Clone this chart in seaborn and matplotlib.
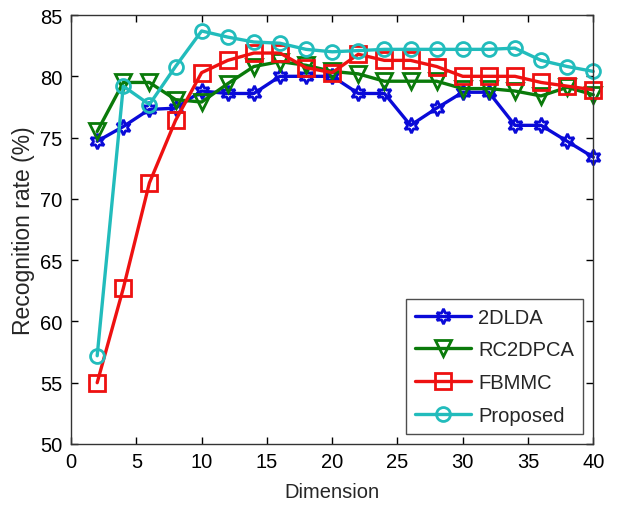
import matplotlib
matplotlib.use('Agg')
import matplotlib.pyplot as plt
import seaborn as sns
import numpy as np
import pandas as pd

dims = [2, 4, 6, 8, 10, 12, 14, 16, 18, 20, 22, 24, 26, 28, 30, 32, 34, 36, 38, 40]

lda2d = [74.7, 75.9, 77.3, 77.4, 78.8, 78.6, 78.6, 80.0, 80.0, 80.0,
         78.6, 78.6, 76.0, 77.4, 78.7, 78.7, 76.0, 76.0, 74.7, 73.4]
rc2dpca = [75.5, 79.5, 79.5, 78.1, 77.9, 79.4, 80.8, 81.2, 80.9, 80.4,
           80.2, 79.6, 79.6, 79.6, 79.0, 79.0, 78.8, 78.4, 79.1, 78.5]
fbmmc = [55.0, 62.7, 71.3, 76.4, 80.3, 81.3, 81.9, 81.9, 80.7, 80.3,
         81.8, 81.3, 81.3, 80.8, 80.0, 80.0, 80.0, 79.5, 79.2, 78.9]
proposed = [57.2, 79.2, 77.7, 80.8, 83.7, 83.2, 82.8, 82.7, 82.2, 82.0,
            82.1, 82.2, 82.2, 82.2, 82.2, 82.2, 82.3, 81.3, 80.8, 80.4]

names = ['2DLDA', 'RC2DPCA', 'FBMMC', 'Proposed']
colors = ['#0a0ad8', '#0a7a0a', '#ee1111', '#22bcbc']
markers = [(6, 1, 0), 'v', 's', 'o']
sizes = [11, 12, 11, 10]

sns.set_style('ticks')
plt.rcParams['font.family'] = ['Liberation Sans', 'DejaVu Sans']

fig = plt.figure(figsize=(6.18, 5.06), dpi=100)
ax = fig.add_axes([0.115, 0.1206, 0.845, 0.8477])

series = [lda2d, rc2dpca, fbmmc, proposed]
for name, vals, c, m, ms in zip(names, series, colors, markers, sizes):
    df = pd.DataFrame({'Dimension': dims, 'rate': vals})
    sns.lineplot(data=df, x='Dimension', y='rate', ax=ax, color=c, marker=m,
                 markersize=ms, markeredgecolor=c, markerfacecolor='none',
                 markeredgewidth=2, linewidth=2.4, label=name, clip_on=False)

ax.set_xlim(0, 40)
ax.set_ylim(50, 85)
ax.set_xticks(np.arange(0, 41, 5))
ax.set_yticks(np.arange(50, 86, 5))
ax.tick_params(direction='in', length=5, width=1, top=True, right=True,
               labelsize=14.5, colors='black', pad=6)
for s in ax.spines.values():
    s.set_visible(True)
    s.set_color('#333333')
    s.set_linewidth(1)

ax.set_xlabel('Dimension', fontsize=14.5, labelpad=8)
ax.set_ylabel('Recognition rate (%)', fontsize=16.5, labelpad=4)

leg = ax.legend(loc='lower right', fontsize=14.5, frameon=True, fancybox=False,
                edgecolor='#222222', handlelength=2.8, borderaxespad=0.5,
                labelspacing=0.68, handletextpad=0.35, borderpad=0.45)
leg.get_frame().set_linewidth(1)

fig.savefig('out.png', dpi=100)
